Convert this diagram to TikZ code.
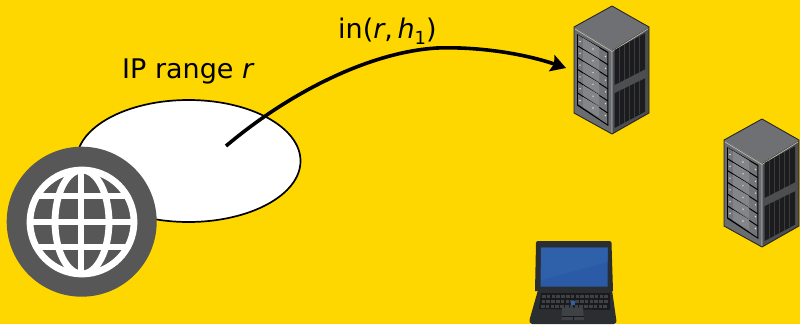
\documentclass[tikz,border=0pt]{standalone}
\usepackage{fontspec}
\setmainfont{DejaVu Sans}
\usetikzlibrary{arrows.meta,shapes.geometric}
\definecolor{bgy}{HTML}{FFD700}
\definecolor{globeg}{HTML}{575757}
\definecolor{srvTop}{HTML}{6E7074}
\definecolor{srvFront}{HTML}{6A6C6F}
\definecolor{srvSide}{HTML}{4D4E50}
\definecolor{drawerA}{HTML}{838588}
\definecolor{drawerB}{HTML}{727477}
\definecolor{vent}{HTML}{1C1C1E}
\definecolor{ventb}{HTML}{3A3B3D}
\definecolor{lapbody}{HTML}{2B2E31}
\definecolor{lapdark}{HTML}{181A1C}
\definecolor{lapkey}{HTML}{3E4246}
\definecolor{scrA}{HTML}{2B5BA6}
\definecolor{scrB}{HTML}{2F60AA}
\tikzset{
  x=1pt,y=-1pt,
  label text/.style={font=\fontsize{27}{31}\selectfont,inner sep=0pt,text=black},
  rangeshape/.style={ellipse,draw=black,fill=white,line width=1.7pt,minimum width=224pt,minimum height=122pt,inner sep=0pt},
  flow/.style={draw=black,line width=3.6pt,-{Stealth[length=15pt,width=17pt,inset=2.5pt]}},
  globe line/.style={draw=white,line width=6.8pt},
  server outline/.style={draw=black!85,line width=.9pt,line join=round},
  pics/server/.style={code={
    \fill[srvTop] (0,0)--(-38,21)--(0,44)--(37,21)--cycle;
    \fill[srvFront] (-38,21)--(0,44)--(0,128)--(-38,107)--cycle;
    \fill[srvSide] (37,21)--(0,44)--(0,128)--(37,107)--cycle;
    \draw[server outline] (0,0)--(-38,21)--(-38,107)--(0,128)--(37,107)--(37,21)--cycle;
    \draw[white!55!srvTop,line width=.6pt] (-37,23)--(0,45.5)--(36,23) (0,45.5)--(0,127);
    \fill[black] (-35,28)--(-3.7,46)--(-3.7,120)--(-35,99.5)--cycle;
    \foreach \i in {0,1,2,3,4,5}{
      \pgfmathsetmacro{\a}{29+\i*11.8}
      \pgfmathsetmacro{\b}{\a+10.3}
      \pgfmathsetmacro{\c}{47+\i*12.1}
      \pgfmathsetmacro{\d}{\c+10.6}
      \fill[drawerB] (-34,\a)--(-4.7,\c)--(-4.7,\d)--(-34,\b)--cycle;
      \fill[drawerA] (-29,{\a+3})--(-13,{\a+12.6})--(-13,{\b+12.6})--(-29,{\b+3})--cycle;
      \fill[white!85!black] (-32,{\a+6.5}) circle (.8);
      \fill[white!85!black] (-19,{\a+14}) circle (.8);
      \fill[white!85!black] (-6.5,{\a+21.5}) circle (.8);
    }
    \foreach \yt/\yb/\ytt/\ybb in {44/79/27.3/63.3,87.3/122/72.3/105.7}{
      \fill[vent] (2.5,\yt)--(33,\ytt)--(33,\ybb)--(2.5,\yb)--cycle;
      \foreach \k in {1,...,5}{
        \pgfmathsetmacro{\xx}{2.5+\k*5.08}
        \pgfmathsetmacro{\ya}{\yt+(\ytt-\yt)*\k/6}
        \pgfmathsetmacro{\yc}{\yb+(\ybb-\yb)*\k/6}
        \draw[ventb,line width=1.1pt] (\xx,\ya)--(\xx,\yc);
      }
    }
  }},
}
\begin{document}
\begin{tikzpicture}
\path[use as bounding box] (0,0) rectangle (800,324);
\fill[bgy] (0,0) rectangle (800,324);

% IP range
\node[rangeshape] (range) at (188.5,161) {};
\coordinate (start) at (226,146);
\coordinate (mid) at (437,48);
\coordinate (target) at (566,68);

% globe
\fill[globeg] (81.7,221.7) circle (75);
\begin{scope}
  \clip (82,222) circle (55);
  \draw[globe line] (20,196)--(140,196) (20,222)--(140,222) (20,247)--(140,247);
  \draw[globe line] (81,160)--(81,280);
  \draw[globe line] (82,222) ellipse (27 and 52);
\end{scope}
\draw[globe line] (82,222) circle (52);

% servers
\pic at (612,6) {server};
\pic at (762,119) {server};

% laptop
\fill[lapbody] (538,241) -- (609,241) .. controls (611,241) and (611.5,242) .. (611.5,243) -- (613,291) -- (535,291) -- (536,243) .. controls (536,242) and (537,241) .. (538,241) -- cycle;
\fill[lapbody] (538,290) -- (612,290) -- (616,318) .. controls (617,322) and (616,324) .. (614,324) -- (532,324) .. controls (530,324) and (529,322) .. (530,318) -- cycle;
\fill[scrA] (541,247.5) -- (607.5,247.5) -- (607.5,286.5) -- (540.5,286.5) -- cycle;
\fill[scrB] (541,247.5) -- (607.5,247.5) -- (607.5,262) -- (541,280) -- cycle;
\fill[lapdark] (541,293) -- (610,293) -- (610,310) -- (539,309) -- cycle;
\foreach \r/\yy in {0/295,1/300,2/305}{
  \foreach \c in {0,...,13}{
    \fill[lapkey] ({542+\c*4.8-\r*.5},\yy) rectangle ++(3.6,3);
  }
}
\fill[scrB] (570.5,301) rectangle (574.5,305);
\fill[lapkey] (562,307.5) -- (583,307.5) -- (584,320) -- (561.5,320) -- cycle;
\draw[lapdark,line width=.5pt] (561.5,316) -- (584,316) (573,316) -- (573,320);

% arrow
\draw[flow] (start) .. controls (290,92) and (370,52) .. (mid) .. controls (480,46.5) and (525,54) .. (target);

% labels
\node[label text,anchor=base west] (rangelabel) at (122,78) {IP range \textit{r}};
\node[label text,anchor=base west] (flowlabel) at (338,38) {in(\textit{r},\,\textit{h}\raisebox{-.25em}{\fontsize{18}{21}\selectfont 1})};
\end{tikzpicture}
\end{document}
